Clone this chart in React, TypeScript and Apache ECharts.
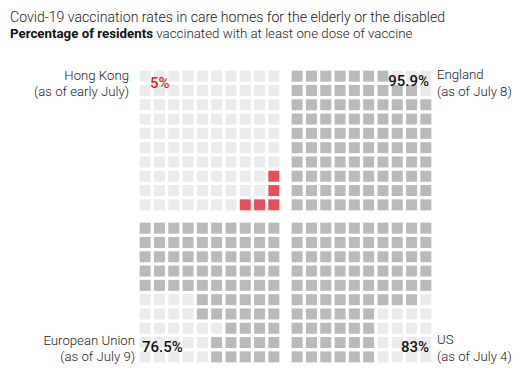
import React, { useEffect, useRef } from "react";
import * as echarts from "echarts";

const regions = ["Hong Kong", "England", "European Union", "US"];
const asOf = ["(as of early July)", "(as of July 8)", "(as of July 9)", "(as of July 4)"];
const rateLabels = ["5%", "95.9%", "76.5%", "83%"];
// per-row counts (10 rows, top to bottom)
const hkRedFromRight = [0, 0, 0, 0, 0, 0, 0, 1, 1, 3];
const englandEmptyFromRight = [3, 1, 0, 0, 0, 0, 0, 0, 0, 0];
const euEmptyFromLeft = [0, 0, 0, 0, 0, 4, 4, 6, 5, 5];
const usEmptyFromRight = [0, 0, 0, 0, 0, 1, 4, 4, 4, 4];
const cols = [0, 1, 2, 3, 4, 5, 6, 7, 8, 9];

const LIGHT = "#e6e6e6";
const DARK = "#a9a9a9";
const RED = "#e3202e";

function buildCells(kind: string) {
  const out: any[] = [];
  for (let r = 0; r < 10; r++) {
    for (let c = 0; c < 10; c++) {
      let color = DARK;
      if (kind === "hk") color = c >= 10 - hkRedFromRight[r] ? RED : LIGHT;
      else if (kind === "en") color = c >= 10 - englandEmptyFromRight[r] ? LIGHT : DARK;
      else if (kind === "eu") color = c < euEmptyFromLeft[r] ? LIGHT : DARK;
      else if (kind === "us") color = c >= 10 - usEmptyFromRight[r] ? LIGHT : DARK;
      out.push({ value: [c, r], itemStyle: { color } });
    }
  }
  return out;
}

export default function App() {
  const ref = useRef<HTMLDivElement>(null);
  useEffect(() => {
    if (!ref.current) return;
    const chart = echarts.init(ref.current, null, { renderer: "svg" });
    const kinds = ["hk", "en", "eu", "us"];
    const pos = [
      { left: 138, top: 69 },
      { left: 290, top: 69 },
      { left: 138, top: 221 },
      { left: 290, top: 221 },
    ];
    const font = "Roboto";
    const lbl = (x: number, y: number, text: string, align: string) => ({
      type: "text",
      x,
      y,
      z: 50,
      style: {
        text,
        align,
        verticalAlign: "middle",
        fontFamily: font,
        fontWeight: 300,
        fontSize: 13.2,
        lineHeight: 16.5,
        fill: "#222",
      },
    });
    const pct = (x: number, y: number, text: string, align: string, fill: string) => ({
      type: "text",
      x,
      y,
      z: 50,
      style: { text, align, verticalAlign: "middle", fontFamily: font, fontWeight: 500, fontSize: 15, fill },
    });
    const option: any = {
      animation: false,
      backgroundColor: "#fff",
      grid: pos.map((p) => ({ left: p.left, top: p.top, width: 143, height: 143 })),
      xAxis: pos.map((_, i) => ({ type: "category", gridIndex: i, data: cols, show: false })),
      yAxis: pos.map((_, i) => ({ type: "category", gridIndex: i, data: cols, inverse: true, show: false })),
      series: kinds.map((k, i) => ({
        type: "scatter",
        xAxisIndex: i,
        yAxisIndex: i,
        symbol: "rect",
        symbolSize: 11,
        z: 1,
        data: buildCells(k),
        silent: true,
      })),
      graphic: [
        {
          type: "text",
          x: 10,
          y: 17,
          z: 50,
          style: {
            text: "Covid-19 vaccination rates in care homes for the elderly or the disabled",
            fontFamily: font,
            fontWeight: 300,
            fontSize: 14.1,
            fill: "#222",
            verticalAlign: "middle",
          },
        },
        {
          type: "text",
          x: 10,
          y: 33,
          z: 50,
          style: {
            text: "{b|Percentage of residents} {n|vaccinated with at least one dose of vaccine}",
            verticalAlign: "middle",
            rich: {
              b: { fontFamily: font, fontWeight: 700, fontSize: 13.3, fill: "#111" },
              n: { fontFamily: font, fontWeight: 300, fontSize: 13.3, fill: "#222" },
            },
          },
        },
        lbl(129, 83.5, regions[0] + "\n" + asOf[0], "right"),
        lbl(437, 83, regions[1] + "\n" + asOf[1], "left"),
        lbl(135, 348.5, regions[2] + "\n" + asOf[2], "right"),
        lbl(437, 348, regions[3] + "\n" + asOf[3], "left"),
        pct(150, 83, rateLabels[0], "left", RED),
        pct(429, 81, rateLabels[1], "right", "#111"),
        pct(142, 347, rateLabels[2], "left", "#111"),
        pct(429, 347, rateLabels[3], "right", "#111"),
      ],
    };
    chart.setOption(option);
    return () => chart.dispose();
  }, []);
  return <div ref={ref} style={{ width: 524, height: 383, position: "absolute", left: 0, top: 0 }} />;
}
